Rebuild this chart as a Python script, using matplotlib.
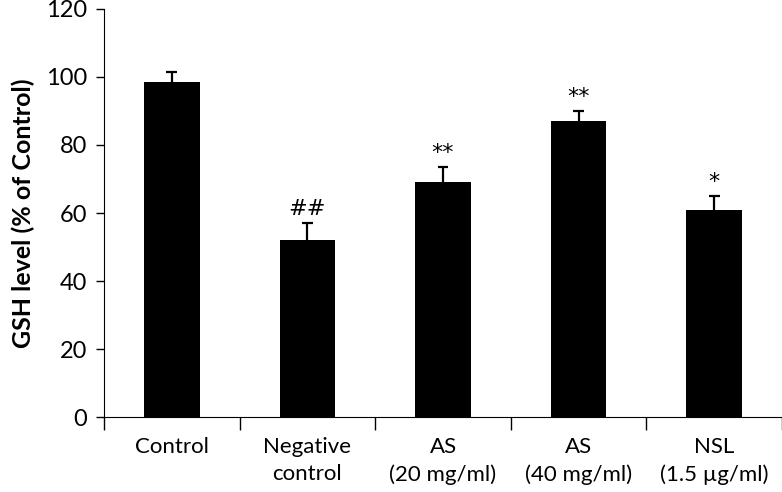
import numpy as np
from matplotlib import pyplot as plt

# data
groups = ["Control", "Negative\ncontrol", "AS\n(20 mg/ml)", "AS\n(40 mg/ml)", "NSL\n(1.5 \u00b5g/ml)"]
gsh    = [98.5, 52, 69, 87, 61]
err    = [3.0, 5.0, 4.5, 3.0, 4.0]
marks  = ["", "##", "**", "**", "*"]

plt.rcParams['font.family'] = ['Lato', 'DejaVu Sans']

fig = plt.figure(figsize=(7.82, 4.92), dpi=100)
ax  = fig.add_axes([0.133, 0.152, 0.867, 0.83])

x = np.arange(len(groups))
top = np.array(gsh) + np.array(err)
ax.bar(x, gsh, width=0.41, color="k")
# upper error bars only
ax.vlines(x, gsh, top, color="k", lw=1.6)
ax.hlines(top, x - 0.04, x + 0.04, color="k", lw=1.6)
for xi, t, m in zip(x, top, marks):
    if m:
        ax.text(xi, t + 1.2, m, ha="center", va="bottom", fontsize=16,
                family="DejaVu Sans")

ax.set_xlim(-0.5, 4.5)
ax.set_ylim(0, 120)
ax.set_yticks(np.arange(0, 121, 20))
ax.set_xticks(x)
ax.set_xticklabels(groups, fontsize=16, linespacing=1.45)
ax.set_xticks(np.arange(-0.5, 4.6, 1), minor=True)
ax.tick_params(axis="x", which="major", length=0, pad=14)
ax.tick_params(axis="x", which="minor", length=9, width=1)
ax.tick_params(axis="y", labelsize=17, length=6, width=1, pad=6)
ax.set_ylabel("GSH level (% of Control)", fontsize=18, fontweight="bold", labelpad=8)

for s in ["top", "right"]:
    ax.spines[s].set_visible(False)

fig.savefig("out.png", dpi=100)
